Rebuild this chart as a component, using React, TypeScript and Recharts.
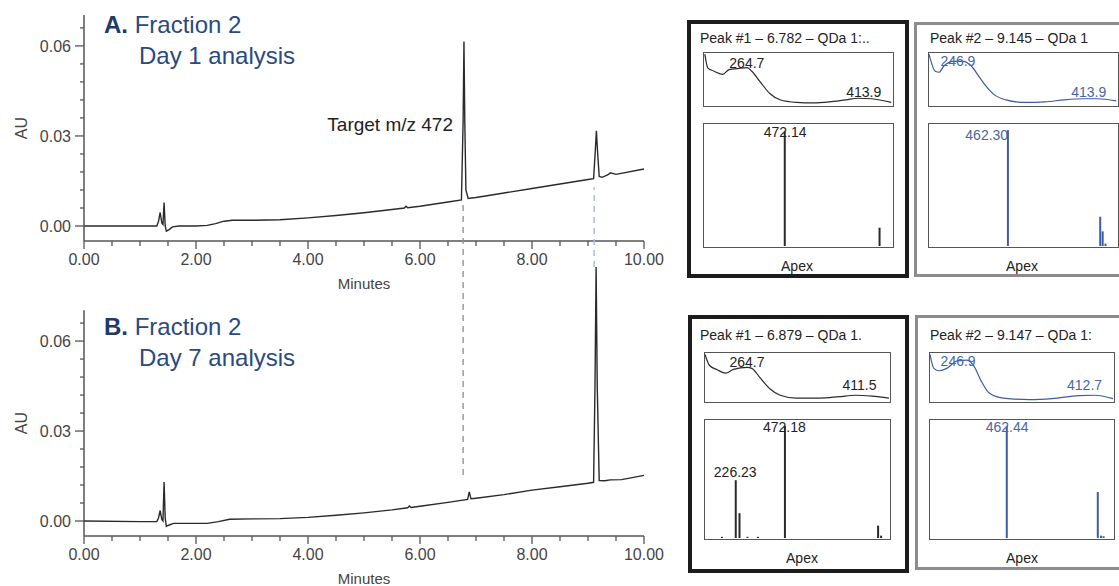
import { Bar, ComposedChart, Line, LineChart, ReferenceDot, ReferenceLine, XAxis, YAxis } from 'recharts';

const font = '"Liberation Sans", Arial, Helvetica, sans-serif';
const ink = '#2a2a2a';
const axisGray = '#555';
const navy = '#2a4a7f';
const blue = '#3d5ca6';
const blueText = '#4866a8';

// chromatogram A, day 1
const timeA = [0, 0.5, 1.0, 1.3, 1.33, 1.36, 1.39, 1.41, 1.43, 1.45, 1.47, 1.52, 1.58, 1.7, 2.0, 2.2, 2.35, 2.5, 2.65, 3.0, 3.5, 4.0, 4.5, 5.0, 5.5, 5.72, 5.75, 5.78, 6.0, 6.5, 6.74, 6.77, 6.785, 6.8, 6.82, 6.86, 7.0, 7.5, 8.0, 8.5, 9.0, 9.1, 9.13, 9.15, 9.17, 9.2, 9.25, 9.35, 9.4, 9.5, 10.0];
const auA = [0, 0, 0, 0, 0.0015, 0.0045, 0.001, 0.0005, 0.0078, 0, -0.0017, -0.0012, -0.0003, 0, 0, 0.0002, 0.0008, 0.0016, 0.0019, 0.0019, 0.0021, 0.0027, 0.0035, 0.0044, 0.0055, 0.006, 0.0066, 0.0061, 0.0066, 0.008, 0.0087, 0.035, 0.0615, 0.035, 0.012, 0.0092, 0.0095, 0.011, 0.0125, 0.014, 0.0155, 0.0158, 0.025, 0.0317, 0.025, 0.0165, 0.0162, 0.017, 0.0177, 0.0172, 0.019];

// chromatogram B, day 7
const timeB = [0, 1.0, 1.3, 1.33, 1.36, 1.39, 1.41, 1.43, 1.45, 1.47, 1.5, 1.6, 2.0, 2.2, 2.4, 2.6, 3.0, 3.5, 4.0, 4.5, 5.0, 5.5, 5.78, 5.81, 5.84, 6.0, 6.5, 6.85, 6.88, 6.91, 7.0, 7.5, 8.0, 8.5, 9.0, 9.1, 9.125, 9.145, 9.165, 9.2, 9.3, 9.4, 9.6, 10.0];
const auB = [0, -0.0002, -0.0002, 0.001, 0.0035, 0.0005, 0, 0.013, 0.001, -0.0018, -0.0015, -0.0008, -0.0008, -0.0008, -0.0002, 0.0006, 0.0007, 0.0008, 0.0012, 0.0019, 0.0027, 0.0037, 0.0044, 0.005, 0.0045, 0.0049, 0.0062, 0.0072, 0.0097, 0.0074, 0.0076, 0.0088, 0.0103, 0.0114, 0.0126, 0.0129, 0.045, 0.0847, 0.045, 0.0135, 0.0134, 0.0137, 0.0138, 0.0152];

const minuteTicks = [0, 0.5, 1, 1.5, 2, 2.5, 3, 3.5, 4, 4.5, 5, 5.5, 6, 6.5, 7, 7.5, 8, 8.5, 9, 9.5, 10];
const auTicks = [0, 0.006, 0.012, 0.018, 0.024, 0.03, 0.036, 0.042, 0.048, 0.054, 0.06, 0.066];
const auMin = -0.005;
const auTop = 0.0703;

// UV spectra (nm, relative absorbance)
const uvNm1 = [211, 215, 223, 234, 242, 253, 265, 271, 282, 294, 307, 328, 349, 370, 391, 407, 424, 449];
const uvAbs1 = [0.98, 0.71, 0.65, 0.59, 0.68, 0.7, 0.72, 0.65, 0.44, 0.22, 0.1, 0.05, 0.04, 0.06, 0.1, 0.13, 0.12, 0.05];
const uvNm2 = [210, 218, 223, 229, 241, 254, 264, 275, 283, 294, 308, 333, 358, 383, 409, 425, 449];
const uvAbs2 = [0.98, 0.65, 0.63, 0.75, 0.84, 0.84, 0.75, 0.52, 0.36, 0.19, 0.1, 0.05, 0.06, 0.1, 0.12, 0.12, 0.08];
const uvNm3 = [210, 216, 226, 237, 247, 265, 271, 282, 295, 308, 329, 359, 385, 406, 428, 450];
const uvAbs3 = [0.97, 0.74, 0.65, 0.58, 0.66, 0.7, 0.68, 0.48, 0.25, 0.12, 0.06, 0.06, 0.09, 0.12, 0.1, 0.06];
const uvNm4 = [210, 215, 222, 232, 245, 258, 267, 278, 288, 306, 340, 370, 405, 426, 450];
const uvAbs4 = [0.97, 0.68, 0.63, 0.68, 0.83, 0.85, 0.74, 0.39, 0.16, 0.06, 0.03, 0.05, 0.11, 0.12, 0.05];

// mass spectra (m/z, relative intensity)
const msMz1 = [472.14, 936];
const msRel1 = [0.94, 0.15];
const msMz2 = [462.3, 914, 926, 940];
const msRel2 = [0.95, 0.24, 0.12, 0.02];
const msMz3 = [157, 226.23, 245, 285, 337, 472.18, 938, 953];
const msRel3 = [0.01, 0.49, 0.21, 0.01, 0.01, 0.95, 0.105, 0.02];
const msMz4 = [462.44, 920, 936, 949];
const msRel4 = [0.95, 0.39, 0.02, 0.015];

const zip = (xs: number[], ys: number[], kx: string, ky: string) => xs.map((x, i) => ({ [kx]: x, [ky]: ys[i] }));

const YTick = (props: any) => {
  const { x, y, payload } = props;
  const v = payload.value;
  const major = Math.abs(v / 0.03 - Math.round(v / 0.03)) < 1e-6;
  return (
    <g>
      <line x1={x} x2={x - (major ? 9 : 4)} y1={y} y2={y} stroke={axisGray} strokeWidth={1.3} />
      {major && (
        <text x={x - 13} y={y + 6} textAnchor="end" fontSize={16} fill="#444" fontFamily={font}>{v.toFixed(2)}</text>
      )}
    </g>
  );
};

const XTick = (props: any) => {
  const { x, y, payload } = props;
  const v = payload.value;
  const major = Math.abs(v / 2 - Math.round(v / 2)) < 1e-6;
  return (
    <g>
      <line x1={x} x2={x} y1={y} y2={y + (major ? 8 : 5)} stroke={axisGray} strokeWidth={1.3} />
      {major && (
        <text x={x} y={y + 24} textAnchor="middle" fontSize={16} fill="#444" fontFamily={font}>{v.toFixed(2)}</text>
      )}
    </g>
  );
};

const auLabel = (props: any) => {
  const vb = props.viewBox;
  const cy = vb.y + vb.height - 113;
  return (
    <text x={21} y={cy} transform={`rotate(-90 21 ${cy})`} textAnchor="middle" dominantBaseline="central" fontSize={16} fill="#444" fontFamily={font}>AU</text>
  );
};

const Title = ({ top, letter, day }: { top: number; letter: string; day: string }) => (
  <>
    <div style={{ position: 'absolute', left: 104, top, fontSize: 24, lineHeight: '28px', color: navy, fontFamily: font, whiteSpace: 'nowrap' }}>
      <b style={{ color: '#1f3a68' }}>{letter}</b> Fraction 2
    </div>
    <div style={{ position: 'absolute', left: 139, top: top + 31, fontSize: 24, lineHeight: '28px', color: navy, fontFamily: font, whiteSpace: 'nowrap' }}>
      {day}
    </div>
  </>
);

const DayOne = () => (
  <div style={{ position: 'absolute', left: 0, top: 0 }}>
    <LineChart width={680} height={300} data={zip(timeA, auA, 't', 'au')} margin={{ top: 15, right: 36, left: 0, bottom: 0 }}>
      <XAxis dataKey="t" type="number" domain={[0, 10]} ticks={minuteTicks} interval={0} tickSize={0} tickMargin={0} height={59}
        tick={<XTick />} axisLine={{ stroke: axisGray, strokeWidth: 1.5 }}
        label={{ value: 'Minutes', position: 'insideBottom', offset: 11, fill: '#444', fontSize: 15, fontFamily: font }} />
      <YAxis type="number" domain={[auMin, auTop]} allowDataOverflow ticks={auTicks} interval={0} tickSize={0} tickMargin={0} width={84}
        tick={<YTick />} axisLine={{ stroke: axisGray, strokeWidth: 1.5 }} label={auLabel} />
      <Line type="linear" dataKey="au" stroke={ink} strokeWidth={1.4} dot={false} isAnimationActive={false} />
    </LineChart>
  </div>
);

// plot area extends above the axis so the tall peak and the guide lines can run up into panel A
const bTop = 0.1137;

const DaySeven = () => (
  <div style={{ position: 'absolute', left: 0, top: 170 }}>
    <LineChart width={680} height={416} data={zip(timeB, auB, 't', 'au')} margin={{ top: 10, right: 36, left: 0, bottom: 0 }}>
      <XAxis dataKey="t" type="number" domain={[0, 10]} ticks={minuteTicks} interval={0} tickSize={0} tickMargin={0} height={50}
        tick={<XTick />} axisLine={{ stroke: axisGray, strokeWidth: 1.5 }}
        label={{ value: 'Minutes', position: 'insideBottom', offset: 2, fill: '#444', fontSize: 15, fontFamily: font }} />
      <YAxis type="number" domain={[auMin, bTop]} allowDataOverflow ticks={auTicks} interval={0} tickSize={0} tickMargin={0} width={84}
        tick={<YTick />} axisLine={false} label={auLabel} />
      <ReferenceLine segment={[{ x: 0, y: auMin }, { x: 0, y: auTop }]} stroke={axisGray} strokeWidth={1.5} />
      <ReferenceLine segment={[{ x: 6.77, y: 0.0153 }, { x: 6.77, y: 0.106 }]} stroke="#8c8c8c" strokeWidth={1.3} strokeDasharray="6 5" />
      <ReferenceLine segment={[{ x: 9.11, y: 0.0847 }, { x: 9.11, y: 0.1113 }]} stroke="#a9bedb" strokeWidth={1.5} strokeDasharray="6 5" />
      <Line type="linear" dataKey="au" stroke={ink} strokeWidth={1.4} dot={false} isAnimationActive={false} />
    </LineChart>
  </div>
);

type Rect = { x: number; y: number; w: number; h: number };
type Tag = { at: number; v: number; text: string; pos: string; off: number };

const framed = (r: Rect): React.CSSProperties => ({
  position: 'absolute', left: r.x, top: r.y, width: r.w, height: r.h, border: '1.5px solid #555', boxSizing: 'border-box',
});

const tagLabel = (t: Tag, color: string) => ({ value: t.text, position: t.pos as any, offset: t.off, fill: color, fontSize: 14, fontFamily: font });

const UvPlot = ({ r, nm, abs, color, textColor, tags }: { r: Rect; nm: number[]; abs: number[]; color: string; textColor: string; tags: Tag[] }) => (
  <div style={framed(r)}>
    <LineChart width={r.w - 3} height={r.h - 3} data={zip(nm, abs, 'nm', 'abs')} margin={{ top: 0, right: 0, left: 0, bottom: 0 }}>
      <XAxis dataKey="nm" type="number" domain={[210, 450]} hide />
      <YAxis type="number" domain={[0, 1]} hide />
      <Line type="monotone" dataKey="abs" stroke={color} strokeWidth={1.2} dot={false} isAnimationActive={false} />
      {tags.map((t) => (
        <ReferenceDot key={t.text} x={t.at} y={t.v} r={0} fill="none" stroke="none" ifOverflow="visible" label={tagLabel(t, textColor)} />
      ))}
    </LineChart>
  </div>
);

const MsPlot = ({ r, mz, rel, color, textColor, tags }: { r: Rect; mz: number[]; rel: number[]; color: string; textColor: string; tags: Tag[] }) => (
  <div style={framed(r)}>
    <ComposedChart width={r.w - 3} height={r.h - 3} data={zip(mz, rel, 'mz', 'rel')} margin={{ top: 0, right: 0, left: 0, bottom: 0 }}>
      <XAxis dataKey="mz" type="number" domain={[75, 995]} hide />
      <YAxis type="number" domain={[0, 1]} hide />
      <Bar dataKey="rel" fill={color} barSize={2} isAnimationActive={false} />
      {tags.map((t) => (
        <ReferenceDot key={t.text} x={t.at} y={t.v} r={0} fill="none" stroke="none" ifOverflow="visible" label={tagLabel(t, textColor)} />
      ))}
    </ComposedChart>
  </div>
);

const PeakBox = (p: {
  outer: Rect; border: string; title: string; titleAt: [number, number]; apexAt: [number, number];
  uv: Rect; ms: Rect; nm: number[]; abs: number[]; mz: number[]; rel: number[];
  color: string; textColor: string; uvTags: Tag[]; msTags: Tag[];
}) => (
  <>
    <div style={{ position: 'absolute', left: p.outer.x, top: p.outer.y, width: p.outer.w, height: p.outer.h, border: p.border, boxSizing: 'border-box' }} />
    <div style={{ position: 'absolute', left: p.titleAt[0], top: p.titleAt[1] - 8, fontSize: 14, lineHeight: '16px', color: '#222', fontFamily: font, whiteSpace: 'nowrap' }}>{p.title}</div>
    <UvPlot r={p.uv} nm={p.nm} abs={p.abs} color={p.color} textColor={p.textColor} tags={p.uvTags} />
    <MsPlot r={p.ms} mz={p.mz} rel={p.rel} color={p.color} textColor={p.textColor} tags={p.msTags} />
    <div style={{ position: 'absolute', left: p.apexAt[0] - 30, width: 60, top: p.apexAt[1] - 8, textAlign: 'center', fontSize: 14, lineHeight: '16px', color: '#222', fontFamily: font }}>Apex</div>
  </>
);

export default function App() {
  return (
    <div style={{ position: 'absolute', left: 0, top: 0, width: 1119, height: 586, overflow: 'hidden', background: '#fff' }}>
      <style>{'.recharts-surface { overflow: visible; }'}</style>
      <DayOne />
      <Title top={11} letter="A." day="Day 1 analysis" />
      <div style={{ position: 'absolute', left: 253, width: 200, top: 113, textAlign: 'right', fontSize: 19, lineHeight: '24px', color: '#222', fontFamily: font }}>Target m/z 472</div>
      <DaySeven />
      <Title top={313} letter="B." day="Day 7 analysis" />

      <PeakBox outer={{ x: 687, y: 20, w: 222, h: 258 }} border="4.5px solid #1c1c1c" title="Peak #1 – 6.782 – QDa 1:.."
        titleAt={[700, 38]} apexAt={[797, 266]} uv={{ x: 703, y: 52, w: 191, h: 55 }} ms={{ x: 703, y: 123, w: 191, h: 125 }}
        nm={uvNm1} abs={uvAbs1} mz={msMz1} rel={msRel1} color={ink} textColor="#222"
        uvTags={[{ at: 264.7, v: 0.72, text: '264.7', pos: 'top', off: 0 }, { at: 413.9, v: 0.13, text: '413.9', pos: 'top', off: 1 }]}
        msTags={[{ at: 472.14, v: 0.94, text: '472.14', pos: 'bottom', off: -4 }]} />
      <PeakBox outer={{ x: 914, y: 22, w: 215, h: 255 }} border="3px solid #8c8c8c" title="Peak #2 – 9.145 – QDa 1"
        titleAt={[930, 38]} apexAt={[1022, 266]} uv={{ x: 928, y: 52, w: 191, h: 55 }} ms={{ x: 928, y: 123, w: 191, h: 125 }}
        nm={uvNm2} abs={uvAbs2} mz={msMz2} rel={msRel2} color={blue} textColor={blueText}
        uvTags={[{ at: 246.9, v: 0.84, text: '246.9', pos: 'center', off: 0 }, { at: 413.9, v: 0.12, text: '413.9', pos: 'top', off: 2 }]}
        msTags={[{ at: 462.3, v: 0.91, text: '462.30', pos: 'left', off: 0 }]} />
      <PeakBox outer={{ x: 688, y: 315, w: 221, h: 258 }} border="4.5px solid #1c1c1c" title="Peak #1 – 6.879 – QDa 1."
        titleAt={[700, 335]} apexAt={[802, 558]} uv={{ x: 704, y: 352, w: 187, h: 51 }} ms={{ x: 704, y: 419, w: 187, h: 121 }}
        nm={uvNm3} abs={uvAbs3} mz={msMz3} rel={msRel3} color={ink} textColor="#222"
        uvTags={[{ at: 264.7, v: 0.7, text: '264.7', pos: 'top', off: 0 }, { at: 411.5, v: 0.12, text: '411.5', pos: 'top', off: 5 }]}
        msTags={[{ at: 472.18, v: 0.95, text: '472.18', pos: 'bottom', off: -4 }, { at: 226.23, v: 0.49, text: '226.23', pos: 'top', off: 3 }]} />
      <PeakBox outer={{ x: 915, y: 315, w: 215, h: 255 }} border="3px solid #8c8c8c" title="Peak #2 – 9.147 – QDa 1:"
        titleAt={[930, 335]} apexAt={[1022, 558]} uv={{ x: 929, y: 352, w: 186, h: 51 }} ms={{ x: 929, y: 419, w: 186, h: 121 }}
        nm={uvNm4} abs={uvAbs4} mz={msMz4} rel={msRel4} color={blue} textColor={blueText}
        uvTags={[{ at: 246.9, v: 0.84, text: '246.9', pos: 'center', off: 0 }, { at: 412.7, v: 0.12, text: '412.7', pos: 'top', off: 5 }]}
        msTags={[{ at: 462.44, v: 0.95, text: '462.44', pos: 'bottom', off: -4 }]} />
    </div>
  );
}
